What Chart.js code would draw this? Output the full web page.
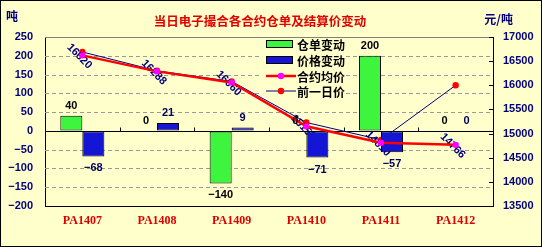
<!DOCTYPE html>
<html><head><meta charset="utf-8">
<script src="https://cdn.jsdelivr.net/npm/chart.js@4.4.0/dist/chart.umd.min.js"></script>
<style>html,body{margin:0;padding:0;background:#FFFFCC;}#wrap{width:542px;height:247px;}canvas{display:block;}</style>
</head><body><div id="wrap"><canvas id="c" width="542" height="247"></canvas></div>
<script>
const categories = ['PA1407','PA1408','PA1409','PA1410','PA1411','PA1412'];
const warrantChange = [40, 0, -140, 0, 200, 0];
const priceChange = [-68, 21, 9, -71, -57, 0];
const avgPrice = [16620, 16288, 16060, 15150, 14810, 14766];
const prevPrice = [16690, 16300, 16080, 15230, 14870, 16000];
const seriesNames = ['仓单变动','价格变动','合约均价','前一日价'];
const titleText = '当日电子撮合各合约仓单及结算价变动';
const leftUnit = '吨';
const rightUnit = '元/吨';

const fmt = v => v < 0 ? '\u2212' + Math.abs(v) : String(v);
const numFont = {family:'Liberation Sans', weight:'bold', size:11};
const BG = '#FFFFCC';

const decor = {
  id: 'decor',
  beforeDraw(c) {
    const ctx = c.ctx; ctx.save();
    ctx.fillStyle = BG; ctx.fillRect(0, 0, c.width, c.height);
    ctx.restore();
  },
  beforeDatasetsDraw(c) {
    const ctx = c.ctx, a = c.chartArea, y = c.scales.y, y2 = c.scales.y2, x = c.scales.x;
    ctx.save();
    // dashed grid
    ctx.strokeStyle = '#9A9A9A'; ctx.lineWidth = 1; ctx.setLineDash([4, 3]);
    y.ticks.forEach(t => {
      if (t.value === 0 || t.value === y.max || t.value === y.min) return;
      const py = Math.round(y.getPixelForValue(t.value)) + 0.5;
      ctx.beginPath(); ctx.moveTo(a.left, py); ctx.lineTo(a.right, py); ctx.stroke();
    });
    ctx.setLineDash([]);
    // top border
    ctx.strokeStyle = '#808080';
    ctx.beginPath(); ctx.moveTo(a.left, a.top + 0.5); ctx.lineTo(a.right, a.top + 0.5); ctx.stroke();
    // zero line + category ticks
    const zy = Math.round(y.getPixelForValue(0)) + 0.5;
    ctx.strokeStyle = '#000';
    ctx.beginPath(); ctx.moveTo(a.left, zy); ctx.lineTo(a.right, zy); ctx.stroke();
    for (let i = 0; i < categories.length - 1; i++) {
      const bx = Math.round((x.getPixelForValue(i) + x.getPixelForValue(i + 1)) / 2) + 0.5;
      ctx.beginPath(); ctx.moveTo(bx, zy); ctx.lineTo(bx, zy - 4); ctx.stroke();
    }
    // right axis inner ticks
    y2.ticks.forEach(t => {
      const py = Math.round(y2.getPixelForValue(t.value)) + 0.5;
      ctx.beginPath(); ctx.moveTo(a.right - 4, py); ctx.lineTo(a.right, py); ctx.stroke();
    });
    // legend
    const lx = a.left + 221;
    const rows = [a.top + 7, a.top + 23, a.top + 39, a.top + 54];
    ctx.fillStyle = BG;
    ctx.fillRect(lx - 4, a.top + 1, 84, 59);
    ds = c.data.datasets;
    const legendOrder = [2, 3, 0, 1];
    ctx.font = 'bold 12px "Noto Sans CJK SC"';
    ctx.textBaseline = 'middle'; ctx.textAlign = 'left';
    legendOrder.forEach((di, r) => {
      const d = ds[di], ry = rows[r];
      if (d.type === 'bar') {
        ctx.fillStyle = d.backgroundColor; ctx.fillRect(lx, ry - 4, 27, 8);
        ctx.strokeStyle = '#000'; ctx.lineWidth = 1; ctx.strokeRect(lx + 0.5, ry - 3.5, 26, 7);
      } else {
        ctx.strokeStyle = d.borderColor; ctx.lineWidth = d.borderWidth;
        ctx.beginPath(); ctx.moveTo(lx, ry); ctx.lineTo(lx + 30, ry); ctx.stroke();
        ctx.fillStyle = d.pointBackgroundColor;
        ctx.beginPath(); ctx.arc(lx + 15, ry, 3.2, 0, Math.PI * 2); ctx.fill();
      }
      ctx.fillStyle = '#000';
      ctx.fillText(d.label, lx + 31, ry + 1);
    });
    ctx.restore();
  },
  afterDatasetDraw(c, args) {
    if (args.index !== 1) return;
    const ctx = c.ctx, meta = c.getDatasetMeta(0);
    ctx.save();
    ctx.font = 'bold 11px "Liberation Sans"';
    ctx.fillStyle = '#000080'; ctx.textAlign = 'center'; ctx.textBaseline = 'middle';
    meta.data.forEach((p, i) => {
      ctx.save();
      ctx.translate(p.x - 3, p.y + 1);
      ctx.rotate(Math.PI / 4);
      ctx.fillText(String(avgPrice[i]), 0, 0);
      ctx.restore();
    });
    ctx.restore();
  },
  afterDatasetsDraw(c) {
    const ctx = c.ctx;
    ctx.save();
    ctx.font = 'bold 11px "Liberation Sans"';
    ctx.textAlign = 'center'; ctx.textBaseline = 'middle';
    [2, 3].forEach(di => {
      const meta = c.getDatasetMeta(di), vals = c.data.datasets[di].data;
      ctx.fillStyle = di === 2 ? '#000' : '#000060';
      meta.data.forEach((el, i) => {
        const v = vals[i];
        const ly = v >= 0 ? el.y - 10 : el.y + 12;
        ctx.fillText(fmt(v), el.x, ly);
      });
    });
    // title & units
    ctx.font = 'bold 12.5px "Noto Sans CJK SC"';
    ctx.fillStyle = '#E00000';
    ctx.fillText(titleText, 260, 21);
    ctx.font = 'bold 12px "Noto Sans CJK SC"';
    ctx.fillStyle = '#000080';
    ctx.textAlign = 'left'; ctx.fillText(leftUnit, 6, 16);
    ctx.textAlign = 'right'; ctx.fillText(rightUnit, 513, 19);
    // outer border
    ctx.strokeStyle = '#000'; ctx.lineWidth = 1;
    ctx.strokeRect(0.5, 0.5, c.width - 1, c.height - 1);
    ctx.restore();
  }
};
let ds;

new Chart(document.getElementById('c'), {
  data: {
    labels: categories,
    datasets: [
      {type:'line', label:seriesNames[2], data:avgPrice, yAxisID:'y2', borderColor:'#FF0000', borderWidth:2.5,
       pointBackgroundColor:'#FF00FF', pointBorderColor:'#FF00FF', pointRadius:3.2, pointBorderWidth:0, tension:0, order:1},
      {type:'line', label:seriesNames[3], data:prevPrice, yAxisID:'y2', borderColor:'#000080', borderWidth:1,
       pointBackgroundColor:'#FF0000', pointBorderColor:'#FF0000', pointRadius:3.2, pointBorderWidth:0, tension:0, order:4},
      {type:'bar', label:seriesNames[0], data:warrantChange, yAxisID:'y', backgroundColor:'#3DF53D', borderColor:'#000',
       borderWidth:1, borderSkipped:false, categoryPercentage:0.59, barPercentage:1, order:2},
      {type:'bar', label:seriesNames[1], data:priceChange, yAxisID:'y', backgroundColor:'#1515D5', borderColor:'#000',
       borderWidth:1, borderSkipped:false, categoryPercentage:0.59, barPercentage:1, order:3}
    ]
  },
  options: {
    responsive: false, animation: false, devicePixelRatio: 1,
    layout: {padding: {top: 37, left: 0, right: 0, bottom: 0}},
    plugins: {legend: {display: false}, title: {display: false}, tooltip: {enabled: false}},
    scales: {
      x: {type:'category', offset:true,
          grid:{display:true, drawOnChartArea:false, drawTicks:false},
          border:{display:true, color:'#000', width:1},
          ticks:{color:'#DD0000', font:{family:'Liberation Serif', weight:'bold', size:12}, padding:8, maxRotation:0, autoSkip:false},
          afterFit(s){ s.height = 41; }},
      y: {position:'left', min:-200, max:250,
          grid:{display:true, drawOnChartArea:false, drawTicks:false},
          border:{display:true, color:'#000', width:1},
          ticks:{stepSize:50, color:'#000080', font:numFont, padding:12, callback: v => fmt(v)},
          afterFit(s){ s.width = 45; }},
      y2: {position:'right', min:13500, max:17000,
          grid:{display:true, drawOnChartArea:false, drawTicks:false},
          border:{display:true, color:'#000', width:1},
          ticks:{stepSize:500, color:'#000080', font:numFont, padding:10, callback: v => String(v)},
          afterFit(s){ s.width = 49; }}
    }
  },
  plugins: [decor]
});
</script>
</body></html>
